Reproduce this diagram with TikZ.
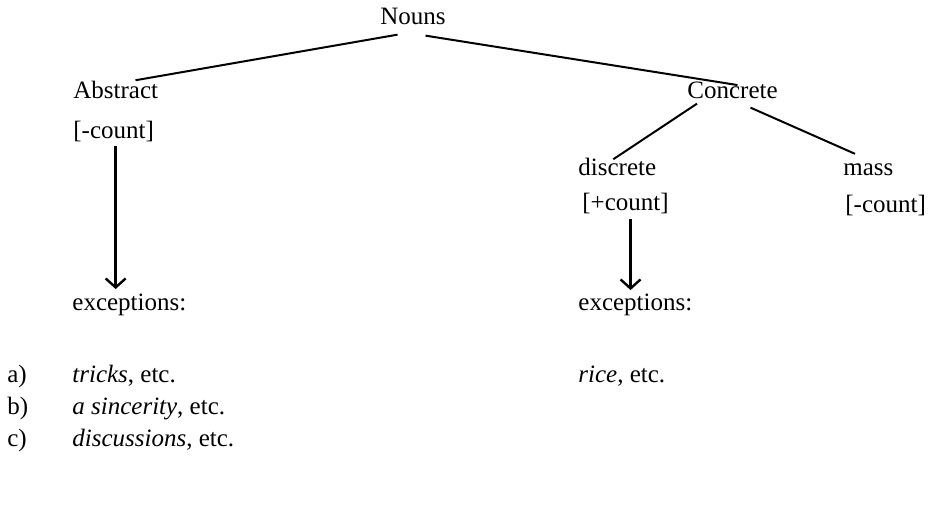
\documentclass[tikz,border=0pt]{standalone}
\usepackage{fontspec}
\setmainfont{Liberation Serif}
\usetikzlibrary{arrows.meta}

\begin{document}
\begin{tikzpicture}[x=0.5pt, y=-0.5pt,
        word/.style={anchor=base west, inner sep=0pt, font=\fontsize{12.5}{15}\selectfont},
        branch/.style={line width=1pt},
        arr/.style={line width=1.2pt, -{Straight Barb[length=4.5pt, width=10pt, line width=1.2pt]}}]
        \useasboundingbox (0,0) rectangle (931,504);

        % tree
        \node[word] (nouns) at (380,24) {Nouns};
        \node[word] (abs) at (73,98) {Abstract};
        \node[word] (cntl) at (73,138) {[-count]};
        \node[word] (con) at (687,98) {Concrete};
        \node[word] (disc) at (578,175) {discrete};
        \node[word] (cntd) at (582,210) {[+count]};
        \node[word] (mass) at (843,175) {mass};
        \node[word] (cntm) at (845,212) {[-count]};

        \draw[branch] ([xshift=-7.75pt, yshift=-5pt]nouns.south) -- ([xshift=-11.5pt]abs.north east);
        \draw[branch] ([xshift=6.25pt, yshift=-5.5pt]nouns.south) -- ([xshift=2.5pt, yshift=-2pt]con.north);
        \draw[branch] ([xshift=5pt, yshift=-2.5pt]con.south west) -- ([xshift=-2pt, yshift=-1pt]disc.north);
        \draw[branch] ([xshift=9pt, yshift=-4.5pt]con.south) -- ([xshift=6pt, yshift=4.5pt]mass.north west);

        % exceptions
        \node[word] (excl) at (72,310) {exceptions:};
        \node[word] (excr) at (578,310) {exceptions:};
        \draw[arr, shorten <=2pt, shorten >=2pt] ([xshift=1pt]cntl.south) -- ([xshift=1pt]cntl.south |- excl.north);
        \draw[arr, shorten <=2.5pt, shorten >=1.5pt] ([xshift=2.5pt]cntd.south) -- ([xshift=2.5pt]cntd.south |- excr.north);

        % list
        \node[word] (la) at (7,382) {a)};
        \node[word] (lb) at (7,414) {b)};
        \node[word] (lc) at (7,446) {c)};
        \node[word] (ta) at (72,382) {\textit{tricks}, etc.};
        \node[word] (tb) at (72,414) {\textit{a sincerity}, etc.};
        \node[word] (tc) at (72,446) {\textit{discussions}, etc.};
        \node[word] (tr) at (578,382) {\textit{rice}, etc.};
\end{tikzpicture}
\end{document}
